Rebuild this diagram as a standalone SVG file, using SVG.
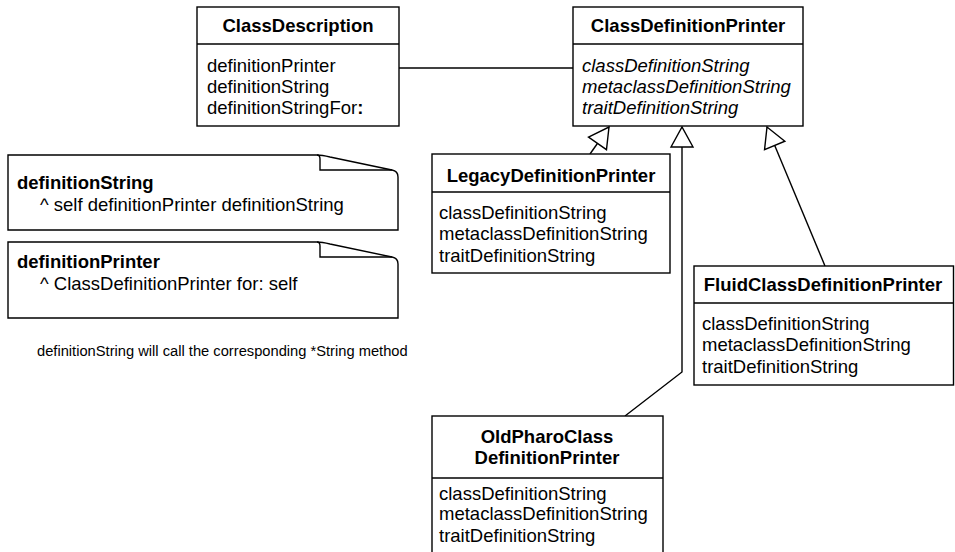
<svg xmlns="http://www.w3.org/2000/svg" width="955" height="552" viewBox="0 0 955 552">
<style>
  .box { fill: #fff; stroke: #000; stroke-width: 1.4; }
  .div { stroke: #000; stroke-width: 1.4; fill: none; }
  .t { font-family: "Liberation Sans", Arial, sans-serif; font-size: 18.5px; fill: #000; }
  .b { font-weight: bold; }
  .i { font-style: italic; }
  .mid { text-anchor: middle; }
  .conn { stroke: #000; stroke-width: 1.4; fill: none; }
  .small { font-size: 14.7px; }
</style>
<defs>
  <marker id="gen" markerUnits="userSpaceOnUse" markerWidth="30" markerHeight="30" viewBox="-25 -15 30 30" refX="0" refY="0" orient="auto">
    <path d="M-20,-11 L0,0 L-20,11 Z" fill="#fff" stroke="#000" stroke-width="1.4"/>
  </marker>
</defs>
<rect width="955" height="552" fill="#fff"/>

<g id="connectors">
  <path class="conn" d="M399,68 L573,68"/>
  <path class="conn" d="M590,154 L609,127" marker-end="url(#gen)"/>
  <path class="conn" d="M625,416 L682,372 L682,127" marker-end="url(#gen)"/>
  <path class="conn" d="M825,266 L767,127" marker-end="url(#gen)"/>
</g>

<g id="ClassDescription">
  <rect class="box" x="197" y="7" width="202" height="119"/>
  <line class="div" x1="197" y1="44" x2="399" y2="44"/>
  <text class="t b mid" x="298" y="32">ClassDescription</text>
  <text class="t" x="207" y="72">definitionPrinter</text>
  <text class="t" x="207" y="93">definitionString</text>
  <text class="t" x="207" y="114">definitionStringFor<tspan class="b">:</tspan></text>
</g>

<g id="ClassDefinitionPrinter">
  <rect class="box" x="573" y="7" width="230" height="119"/>
  <line class="div" x1="573" y1="44" x2="803" y2="44"/>
  <text class="t b mid" x="688" y="32">ClassDefinitionPrinter</text>
  <text class="t i" x="582" y="72">classDefinitionString</text>
  <text class="t i" x="582" y="93">metaclassDefinitionString</text>
  <text class="t i" x="582" y="114">traitDefinitionString</text>
</g>

<g id="LegacyDefinitionPrinter">
  <rect class="box" x="432" y="154" width="238" height="119"/>
  <line class="div" x1="432" y1="192" x2="670" y2="192"/>
  <text class="t b mid" x="551" y="182">LegacyDefinitionPrinter</text>
  <text class="t" x="439" y="219">classDefinitionString</text>
  <text class="t" x="439" y="240">metaclassDefinitionString</text>
  <text class="t" x="439" y="262">traitDefinitionString</text>
</g>

<g id="FluidClassDefinitionPrinter">
  <rect class="box" x="694" y="266" width="259.5" height="119"/>
  <line class="div" x1="694" y1="303" x2="953.5" y2="303"/>
  <text class="t b mid" x="823" y="291">FluidClassDefinitionPrinter</text>
  <text class="t" x="702" y="330">classDefinitionString</text>
  <text class="t" x="702" y="351">metaclassDefinitionString</text>
  <text class="t" x="702" y="373">traitDefinitionString</text>
</g>

<g id="OldPharoClassDefinitionPrinter">
  <rect class="box" x="432" y="416" width="231" height="150"/>
  <line class="div" x1="432" y1="478" x2="663" y2="478"/>
  <text class="t b mid" x="547" y="443">OldPharoClass</text>
  <text class="t b mid" x="547" y="464">DefinitionPrinter</text>
  <text class="t" x="439" y="500">classDefinitionString</text>
  <text class="t" x="439" y="520">metaclassDefinitionString</text>
  <text class="t" x="439" y="542">traitDefinitionString</text>
</g>

<g id="note1">
  <path class="box" d="M8,155 L317,155 Q320,155 320,159 L320,170 L392,170 Q398,171 398,177 L398,230 L8,230 Z"/>
  <path class="div" d="M317,155 Q322,155 330,157 L392,170"/>
  <text class="t b" x="17" y="189">definitionString</text>
  <text class="t" x="40" y="211">^ self definitionPrinter definitionString</text>
</g>

<g id="note2">
  <path class="box" d="M8,242 L317,242 Q320,242 320,246 L320,257 L392,257 Q398,258 398,264 L398,318 L8,318 Z"/>
  <path class="div" d="M317,242 Q322,242 330,244 L392,257"/>
  <text class="t b" x="17" y="268">definitionPrinter</text>
  <text class="t" x="40" y="290">^ ClassDefinitionPrinter for: self</text>
</g>

<g id="comment">
  <text class="t small" x="37" y="356">definitionString will call the corresponding *String method</text>
</g>
</svg>
